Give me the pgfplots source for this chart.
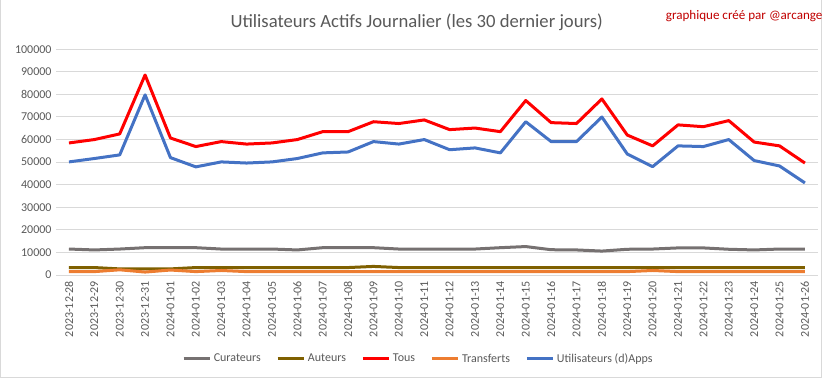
\documentclass[border=0pt]{standalone}
\usepackage{fontspec}
\setmainfont{Carlito}
\usepackage{pgfplots}
\pgfplotsset{compat=1.18}
\usepackage{pgfplotstable}
\definecolor{cur}{HTML}{767171}
\definecolor{aut}{HTML}{7F6000}
\definecolor{tous}{HTML}{FF0000}
\definecolor{tra}{HTML}{ED7D31}
\definecolor{app}{HTML}{4472C4}
\definecolor{txt}{HTML}{595959}
\definecolor{grd}{HTML}{D9D9D9}
\definecolor{sig}{HTML}{C00000}

\pgfplotstableread{
x cur aut tous tra app
0 11500 3300 58500 1500 50100
1 11100 3300 60000 1500 51600
2 11500 2700 62500 2300 53200
3 12100 2700 88600 1300 79800
4 12100 2700 60700 2200 52000
5 12100 3300 56900 1500 47900
6 11500 3300 59100 2000 50100
7 11500 3300 58000 1500 49600
8 11500 3300 58500 1500 50100
9 11100 3300 60000 1500 51600
10 12100 3300 63500 1500 54100
11 12100 3300 63500 1500 54500
12 12100 3800 67900 1500 59100
13 11500 3300 67100 1500 58000
14 11500 3300 68700 1500 60000
15 11500 3300 64400 1500 55500
16 11500 3300 65100 1500 56300
17 12100 3300 63500 1500 54100
18 12600 3300 77300 1500 67900
19 11200 3300 67500 1500 59100
20 11100 3300 67100 1500 59100
21 10600 3300 78000 1500 70000
22 11400 3300 62000 1500 53600
23 11500 3300 57200 2000 48000
24 12000 3300 66500 1500 57200
25 12000 3300 65700 1500 56900
26 11400 3300 68400 1500 60000
27 11100 3300 58900 1500 50700
28 11500 3300 57200 1500 48300
29 11500 3300 49600 1500 40800
}\data

\begin{document}
\begin{tikzpicture}
\path[use as bounding box] (0,0) rectangle (624.75pt,284.25pt);
\draw[grd, line width=0.75pt] (0.4pt,284.25pt) -- (0.4pt,1.5pt) -- (615.75pt,1.5pt) -- (615.75pt,284.25pt);
\node[text=txt, font=\fontsize{14}{17}\selectfont] at (312.5pt,267.75pt) {Utilisateurs Actifs Journalier (les 30 dernier jours)};
\node[text=sig, font=\fontsize{9.8}{12}\selectfont, anchor=east, inner sep=0pt] at (617pt,272.25pt) {graphique créé par @arcange};
\begin{axis}[
  at={(42.2pt,78pt)}, anchor=south west,
  scale only axis, width=571pt, height=169.3pt,
  xmin=-0.5, xmax=29.5, ymin=0, ymax=100000,
  axis x line*=bottom, axis y line*=left,
  x axis line style={grd, line width=0.75pt, -},
  y axis line style={draw=none},
  major tick length=0pt,
  ymajorgrids, grid style={grd, line width=0.75pt},
  ytick={0,10000,...,100000},
  scaled y ticks=false,
  /pgf/number format/.cd, fixed, 1000 sep={}, assume math mode=true,
  /pgfplots/.cd,
  ticklabel style={text=txt, font=\fontsize{9}{11}\selectfont},
  xtick={0,...,29},
  xticklabels={2023-12-28,2023-12-29,2023-12-30,2023-12-31,2024-01-01,2024-01-02,2024-01-03,2024-01-04,2024-01-05,2024-01-06,2024-01-07,2024-01-08,2024-01-09,2024-01-10,2024-01-11,2024-01-12,2024-01-13,2024-01-14,2024-01-15,2024-01-16,2024-01-17,2024-01-18,2024-01-19,2024-01-20,2024-01-21,2024-01-22,2024-01-23,2024-01-24,2024-01-25,2024-01-26},
  xticklabel style={rotate=90, anchor=east, xshift=-1pt},
  legend columns=5,
  legend style={draw=none, fill=none, text=txt, font=\fontsize{9}{11}\selectfont,
    at={(0.476,-0.372)}, anchor=center,
    /tikz/every even column/.append style={column sep=9.5pt}},
  legend image code/.code={\draw[#1] (0pt,0pt) -- (19.5pt,0pt);},
  every axis plot/.append style={line width=2.25pt, line join=round, no markers},
]
\addplot[cur] table[x=x,y=cur]{\data};
\addlegendentry{Curateurs}
\addplot[aut] table[x=x,y=aut]{\data};
\addlegendentry{Auteurs}
\addplot[tous] table[x=x,y=tous]{\data};
\addlegendentry{Tous}
\addplot[tra] table[x=x,y=tra]{\data};
\addlegendentry{Transferts}
\addplot[app] table[x=x,y=app]{\data};
\addlegendentry{Utilisateurs (d)Apps}
\end{axis}
\end{tikzpicture}
\end{document}
